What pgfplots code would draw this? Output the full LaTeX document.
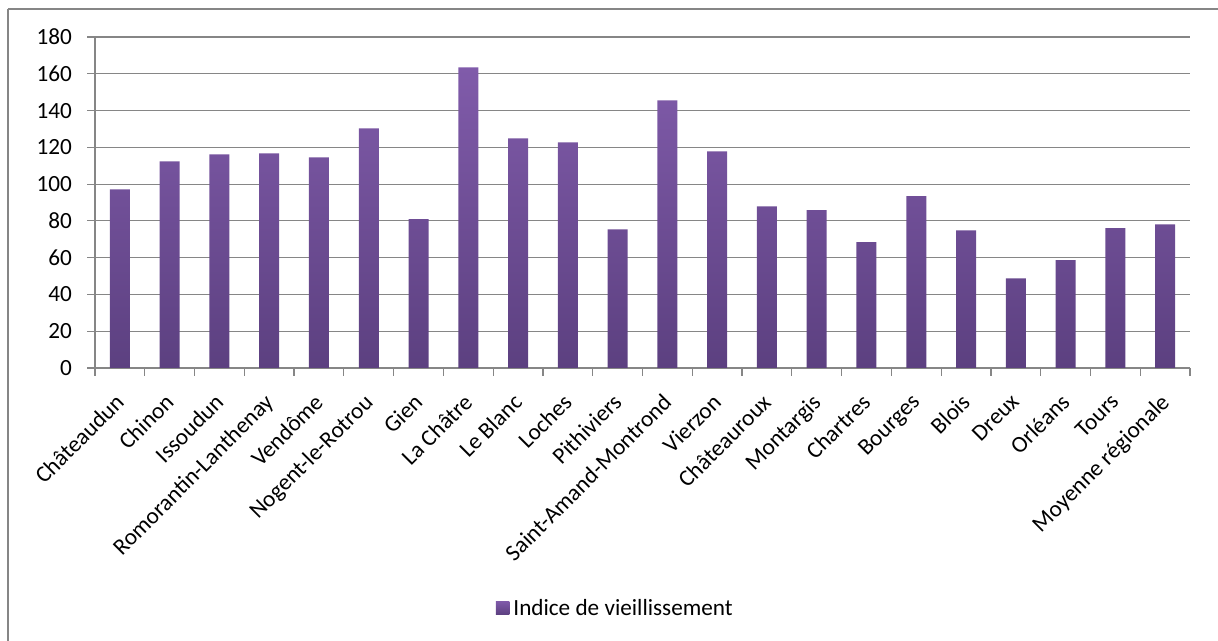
\documentclass[border=0pt]{standalone}
\usepackage{fontspec}
\setmainfont{Carlito}
\usepackage{pgfplots}
\pgfplotsset{compat=1.18}
\definecolor{gridgray}{RGB}{134,134,134}
\definecolor{bartop}{RGB}{128,91,170}
\definecolor{barbot}{RGB}{92,64,128}
\begin{document}
\begin{tikzpicture}
\useasboundingbox (-47.5pt,-136.5pt) rectangle (561.5pt,184pt);
\draw[gridgray, line width=0.6pt] (-43.5pt,179.5pt) -- (-43.5pt,-140pt) (-43.5pt,179.5pt) -- (570pt,179.5pt);
\begin{axis}[
  at={(0pt,0pt)}, anchor=south west,
  scale only axis, width=547.5pt, height=165.5pt,
  xmin=-0.5, xmax=21.5, ymin=0, ymax=180,
  ytick={0,20,...,180},
  xtick={0,...,21},
  xticklabels={Châteaudun,Chinon,Issoudun,Romorantin-Lanthenay,Vendôme,Nogent-le-Rotrou,Gien,La Châtre,Le Blanc,Loches,Pithiviers,Saint-Amand-Montrond,Vierzon,Châteauroux,Montargis,Chartres,Bourges,Blois,Dreux,Orléans,Tours,Moyenne régionale},
  minor xtick={-0.5,0.5,...,21.5},
  major x tick style={draw=none},
  minor tick length=4pt,
  major tick length=4pt,
  xtick pos=bottom, ytick pos=left,
  tick align=outside,
  tick style={gridgray, line width=0.6pt},
  axis x line*=bottom, axis y line*=left,
  axis line style={gridgray, line width=0.6pt, -},
  ymajorgrids, grid style={gridgray, line width=0.6pt},
  x tick label style={xshift=-3pt, yshift=-8pt, rotate=45, anchor=north east, inner sep=0pt},
  y tick label style={xshift=-4pt},
  tick label style={font=\fontsize{11.6}{13}\selectfont},
  /pgf/number format/assume math mode=true,
  legend style={at={(0.476,-0.728)}, anchor=center, draw=none, font=\fontsize{11.6}{13}\selectfont, legend image code/.code={\fill[barbot!70!bartop] (0cm,-0.10cm) rectangle (0.24cm,0.14cm);}, inner sep=0pt},
  legend cell align=left,
  clip=false,
]
\addplot[ybar, bar width=10pt, draw=none, top color=bartop, bottom color=barbot] coordinates {
(0,97.2) (1,112.4) (2,116.2) (3,116.7) (4,114.6) (5,130.3) (6,80.9) (7,163.5) (8,124.9) (9,122.7) (10,75.4) (11,145.6) (12,117.8) (13,87.9) (14,85.8) (15,68.4) (16,93.4) (17,74.9) (18,48.8) (19,58.7) (20,76.0) (21,78.1)
};
\addlegendentry{Indice de vieillissement}
\end{axis}
\end{tikzpicture}
\end{document}
